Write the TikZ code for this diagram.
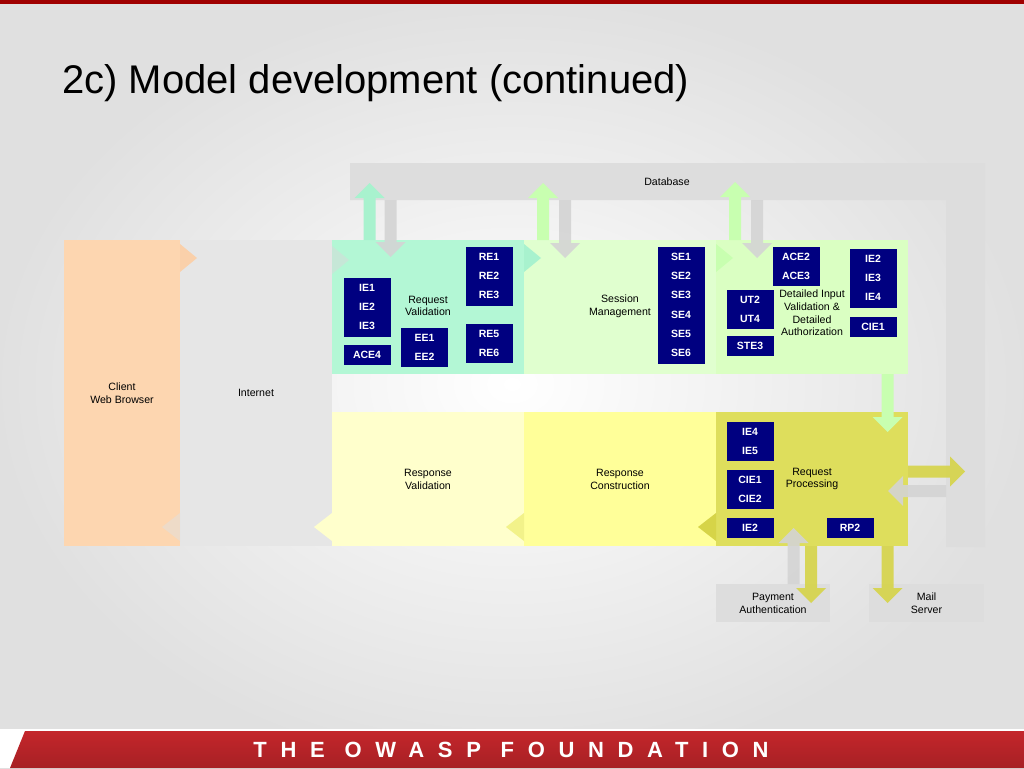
\documentclass[tikz,border=0pt]{standalone}
\usepackage{fontspec}
\setmainfont{Liberation Sans}
\newfontfamily\footerfont[LetterSpace=62]{Liberation Sans Bold}
\usetikzlibrary{positioning}

\definecolor{navybox}{RGB}{0,0,128}
\definecolor{clientc}{HTML}{FDD6B0}
\definecolor{netgray}{HTML}{E6E6E6}
\definecolor{dbgray}{HTML}{DDDDDD}
\definecolor{mintc}{HTML}{B3F7D5}
\definecolor{sessc}{HTML}{E0FFCF}
\definecolor{detc}{HTML}{DAFFC2}
\definecolor{respval}{HTML}{FFFFCC}
\definecolor{respcon}{HTML}{FFFF99}
\definecolor{reqproc}{HTML}{DEDE5C}
\definecolor{arrmint}{HTML}{A8F2CE}
\definecolor{arrlgreen}{HTML}{C8FFB0}
\definecolor{arrorange}{HTML}{FAD0AA}
\definecolor{arrolive}{HTML}{D6D448}
\definecolor{owaspred}{HTML}{C4262B}
\definecolor{owaspdark}{HTML}{A00000}

\newcommand{\lblfont}{\fontsize{10.6}{12.8}\selectfont}
\newcommand{\codefont}{\fontsize{10.5}{12}\selectfont\bfseries}

% block arrows: style, centre, tail, tip
\newcommand{\vblock}[4]{%
  \pgfmathsetmacro{\headbase}{#4-15*sign(#4-#3)}
  \fill[#1] (#2-6,#3) -- (#2-6,\headbase) -- (#2-15,\headbase) -- (#2,#4)
    -- (#2+15,\headbase) -- (#2+6,\headbase) -- (#2+6,#3) -- cycle;}
\newcommand{\hblock}[4]{%
  \pgfmathsetmacro{\headbase}{#4-15*sign(#4-#3)}
  \fill[#1] (#3,#2-6) -- (\headbase,#2-6) -- (\headbase,#2-15) -- (#4,#2)
    -- (\headbase,#2+15) -- (\headbase,#2+6) -- (#3,#2+6) -- cycle;}
% arrow heads only
\newcommand{\rhead}[3]{\fill[#1] (#2,#3-14) -- (#2+17,#3) -- (#2,#3+14) -- cycle;}
\newcommand{\lhead}[3]{\fill[#1] (#2,#3-14) -- (#2-18,#3) -- (#2,#3+14) -- cycle;}

\begin{document}
\begin{tikzpicture}[x=1pt, y=-1pt,
    zone/.style={fill=#1, inner sep=0pt, minimum width=192pt, minimum height=134pt},
    lbl/.style={font=\lblfont, align=center, inner sep=0pt},
    code/.style={fill=navybox, draw=navybox, line width=0.4pt, text=white,
      font=\codefont, inner sep=0pt, outer sep=0pt,
      minimum width=46pt, minimum height=19.33pt},
    grayarr/.style={fill=black!17, opacity=0.9}]
  \useasboundingbox (0,0) rectangle (1024,768);

  % Slide background
  \shade[inner color=white, outer color=black!12] (0,0) rectangle (1024,768);
  \fill[owaspdark] (0,0) rectangle (1024,4);
  \fill[white] (0,729) rectangle (1024,768);
  \shade[top color=owaspred, bottom color=owaspred!85!black]
    (25,731) -- (1024,731) -- (1024,768) -- (10,768) -- cycle;
  \node[text=white, font=\footerfont\fontsize{22}{22}\selectfont, inner sep=0pt]
    (foundation) at (511,750) {THE OWASP FOUNDATION};

  \node[anchor=base west, font=\fontsize{40}{46}\selectfont, inner sep=0pt]
    (title) at (62,93) {2c) Model development (continued)};

  % Database bar
  \fill[dbgray] (350,163) -- (985,163) -- (985,547) -- (946,547)
    -- (946,200) -- (350,200) -- cycle;
  \node[lbl] (db) at (667,182) {Database};

  % Outer tiers
  \node[fill=clientc, inner sep=0pt, minimum width=116pt, minimum height=306pt]
    (client) at (122,393) {};
  \node[lbl] at (client) {Client\\Web Browser};
  \node[fill=netgray, inner sep=0pt, minimum width=152pt, minimum height=306pt]
    (internet) at (256,393) {};
  \node[lbl] at (internet) {Internet};

  % Request path
  \node[zone=mintc] (reqval) at (428,307) {};
  \node[lbl] at (428,306) {Request\\Validation};
  \node[zone=sessc] (session) at (620,307) {};
  \node[lbl] at (620,306) {Session\\Management};
  \node[zone=detc] (detail) at (812,307) {};
  \node[lbl] at (812,313) {Detailed Input\\Validation \&\\Detailed\\Authorization};

  % Response path
  \node[zone=respval] (respval) at (428,479) {};
  \node[lbl] at (respval) {Response\\Validation};
  \node[zone=respcon] (respcon) at (620,479) {};
  \node[lbl] at (respcon) {Response\\Construction};
  \node[zone=reqproc] (reqproc) at (812,479) {};
  \node[lbl] at (reqproc) {Request\\Processing};

  % External services
  \node[fill=dbgray, inner sep=0pt, minimum width=114pt, minimum height=38pt]
    (payment) at (773,603) {};
  \node[lbl] at (payment) {Payment\\Authentication};
  \node[fill=dbgray, inner sep=0pt, minimum width=115pt, minimum height=38pt]
    (mail) at (926.5,603) {};
  \node[lbl] at (mail) {Mail\\Server};

  % Flows to and from the database
  \vblock{arrmint}{369.5}{240}{183}
  \vblock{grayarr}{390.5}{200}{257}
  \vblock{arrlgreen}{543}{240}{183}
  \vblock{grayarr}{565}{200}{258}
  \vblock{arrlgreen}{735}{240}{182}
  \vblock{grayarr}{757}{200}{258}
  \vblock{arrlgreen}{887.5}{374}{432}
  \hblock{arrolive, opacity=0.9}{471.5}{908}{965}
  \hblock{grayarr}{491}{946}{888}
  \vblock{grayarr}{793.5}{584}{528}
  \vblock{arrolive, opacity=0.9}{811}{546}{603}
  \vblock{arrolive, opacity=0.9}{887.5}{546}{603}

  % Heads between tiers
  \rhead{arrorange}{180}{258}
  \rhead{black!15, opacity=0.5}{332}{260}
  \rhead{arrmint}{524}{258}
  \rhead{arrlgreen}{716}{258}
  \lhead{black!12, opacity=0.5}{180}{527}
  \lhead{respval}{332}{527}
  \lhead{respcon!90!olive}{524}{527}
  \lhead{arrolive}{716}{527}

  % Request validation checks
  \node[code, anchor=north] (ie1) at (367,278) {IE1};
  \node[code, below=0pt of ie1] (ie2) {IE2};
  \node[code, below=0pt of ie2] (ie3) {IE3};
  \node[code, anchor=north] (ace4) at (367,345) {ACE4};
  \node[code, anchor=north] (ee1) at (424.5,328) {EE1};
  \node[code, below=0pt of ee1] (ee2) {EE2};
  \node[code, anchor=north] (re1) at (489,247) {RE1};
  \node[code, below=0pt of re1] (re2) {RE2};
  \node[code, below=0pt of re2] (re3) {RE3};
  \node[code, anchor=north] (re5) at (489,324) {RE5};
  \node[code, below=0pt of re5] (re6) {RE6};

  % Session checks
  \node[code, anchor=north] (se1) at (681,247) {SE1};
  \node[code, below=0pt of se1] (se2) {SE2};
  \node[code, below=0pt of se2] (se3) {SE3};
  \node[code, below=0pt of se3] (se4) {SE4};
  \node[code, below=0pt of se4] (se5) {SE5};
  \node[code, below=0pt of se5] (se6) {SE6};

  % Detailed validation checks
  \node[code, anchor=north] (ace2) at (796,247) {ACE2};
  \node[code, below=0pt of ace2] (ace3) {ACE3};
  \node[code, anchor=north] (ut2) at (750,290) {UT2};
  \node[code, below=0pt of ut2] (ut4) {UT4};
  \node[code, anchor=north] (ste3) at (750,336) {STE3};
  \node[code, anchor=north] (dvie2) at (873,249) {IE2};
  \node[code, below=0pt of dvie2] (dvie3) {IE3};
  \node[code, below=0pt of dvie3] (dvie4) {IE4};
  \node[code, anchor=north] (dvcie1) at (873,317) {CIE1};

  % Processing checks
  \node[code, anchor=north] (rpie4) at (750,422) {IE4};
  \node[code, below=0pt of rpie4] (rpie5) {IE5};
  \node[code, anchor=north] (rpcie1) at (750,470) {CIE1};
  \node[code, below=0pt of rpcie1] (rpcie2) {CIE2};
  \node[code, anchor=north] (rpie2) at (750,518) {IE2};
  \node[code, anchor=north] (rp2) at (850,518) {RP2};
\end{tikzpicture}
\end{document}
